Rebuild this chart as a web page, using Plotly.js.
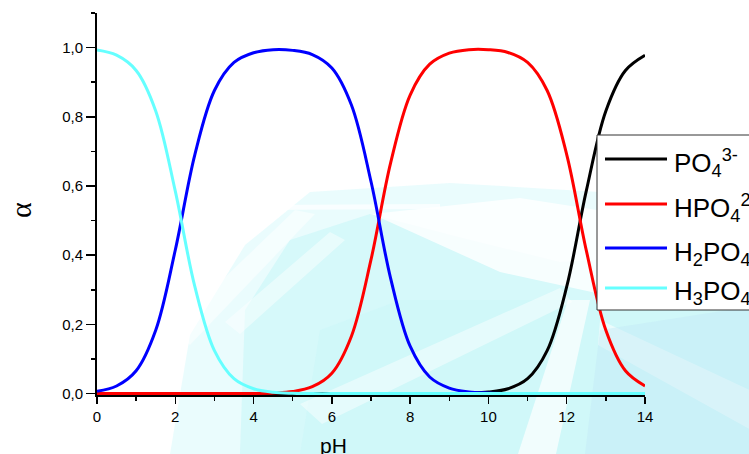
<!DOCTYPE html>
<html>
<head>
<meta charset="utf-8">
<script src="https://cdn.plot.ly/plotly-3.0.1.min.js"></script>
<style>html,body{margin:0;padding:0;background:#fff;}#chart{width:749px;height:454px;}</style>
</head>
<body>
<div id="chart"></div>
<script>
// ---- data ----
const pH = [0,0.5,1,1.5,2,2.5,3,3.5,4,4.5,5,5.5,6,6.5,7,7.5,8,8.5,9,9.5,10,10.5,11,11.5,12,12.5,13,13.5,14];
const H3PO4 = [0.993,0.978,0.934,0.817,0.585,0.309,0.124,0.043,0.014,0.004,0.001,0,0,0,0,0,0,0,0,0,0,0,0,0,0,0,0,0,0];
const H2PO4 = [0.007,0.022,0.066,0.183,0.415,0.691,0.876,0.957,0.985,0.994,0.992,0.980,0.941,0.834,0.613,0.334,0.137,0.048,0.016,0.005,0.002,0.0005,0,0,0,0,0,0,0];
const HPO4  = [0,0,0,0,0,0,0,0.0002,0.0006,0.002,0.006,0.020,0.059,0.166,0.387,0.666,0.863,0.952,0.984,0.994,0.994,0.986,0.957,0.876,0.691,0.414,0.183,0.066,0.022];
const PO4   = [0,0,0,0,0,0,0,0,0,0,0,0,0,0,0,0,0,0.0001,0.0004,0.0014,0.0045,0.014,0.043,0.124,0.309,0.586,0.817,0.934,0.978];
const seriesNames = ['PO<sub>4</sub><sup>3-</sup>','HPO<sub>4</sub><sup>2-</sup>','H<sub>2</sub>PO<sub>4</sub><sup>-</sup>','H<sub>3</sub>PO<sub>4</sub>'];
const seriesColors = ['#000000','#ff0000','#0000ff','#66ffff'];
const yTickVals = [0,0.2,0.4,0.6,0.8,1.0];
const xTickVals = [0,2,4,6,8,10,12,14];

// ---- geometry helpers (pixel -> paper) ----
const L = 97, R = 645, T = 13, B = 395;
const px = x => (x - L) / (R - L);
const py = y => (B - y) / (B - T);
function path(pts){ return 'M' + pts.map(p => px(p[0]).toFixed(4) + ',' + py(p[1]).toFixed(4)).join('L') + 'Z'; }
function bg(pts, color, op){ return {type:'path', xref:'paper', yref:'paper', layer:'below', path:path(pts), fillcolor:color, opacity:op, line:{width:0}}; }

const CY = 'rgb(196,246,248)';
const shapes = [
  // faint watermark background (soft cyan light-ray picture)
  bg([[170,454],[190,335],[245,245],[310,192],[450,183],[600,192],[760,190],[760,454]], CY, 0.35),
  bg([[240,454],[245,310],[290,240],[370,214],[470,240],[560,262],[760,250],[760,454]], CY, 0.55),
  bg([[300,454],[320,330],[400,300],[520,300],[760,300],[760,454]], CY, 0.3),
  bg([[372,214],[520,198],[610,212],[610,296],[500,272]], 'rgb(255,255,255)', 0.8),
  bg([[250,205],[440,204],[440,209],[250,210]], 'rgb(255,255,255)', 0.7),
  bg([[170,330],[295,210],[315,214],[190,345]], 'rgb(255,255,255)', 0.5),
  bg([[225,322],[330,232],[345,240],[240,334]], 'rgb(255,255,255)', 0.45),
  bg([[300,404],[560,288],[572,302],[322,424]], 'rgb(255,255,255)', 0.45),
  bg([[518,454],[556,454],[590,300],[568,300]], 'rgb(255,255,255)', 0.7),
  bg([[600,320],[760,395],[760,435],[598,345]], 'rgb(255,255,255)', 0.55),
  bg([[600,330],[760,305],[760,454],[585,454]], 'rgb(196,232,247)', 0.45),
  // legend box
  {type:'rect', xref:'paper', yref:'paper', layer:'above', x0:px(597), x1:px(775), y0:py(310), y1:py(135), fillcolor:'#ffffff', line:{color:'#333333', width:1}}
];
const legendY = [159, 204, 248, 288];
const annotations = [];
legendY.forEach((y, i) => {
  shapes.push({type:'line', xref:'paper', yref:'paper', layer:'above', x0:px(605), x1:px(667), y0:py(y), y1:py(y), line:{color:seriesColors[i], width:3}});
  annotations.push({xref:'paper', yref:'paper', x:px(672), y:py(y+4), xanchor:'left', yanchor:'middle', showarrow:false, text:seriesNames[i], font:{family:'Liberation Sans, Arial, sans-serif', size:26, color:'#000'}});
});
annotations.push({xref:'paper', yref:'paper', x:px(333), y:py(445), xanchor:'center', yanchor:'middle', showarrow:false, text:'pH', font:{family:'Liberation Sans, Arial, sans-serif', size:21, color:'#000'}});
annotations.push({xref:'paper', yref:'paper', x:px(20), y:py(210), xanchor:'center', yanchor:'middle', showarrow:false, textangle:-90, text:'α', font:{family:'Liberation Serif, serif', size:30, color:'#000'}});

const ys = [PO4, HPO4, H2PO4, H3PO4];
const traces = ys.map((y, i) => ({
  x: pH, y: y, type:'scatter', mode:'lines', name: seriesNames[i],
  line:{color: seriesColors[i], width:3, shape:'spline', smoothing:1}
}));

const axFont = {family:'Liberation Sans, Arial, sans-serif', size:15, color:'#000'};
const layout = {
  width:749, height:454,
  margin:{l:L, r:749-R, t:T, b:454-B, pad:0},
  paper_bgcolor:'#ffffff', plot_bgcolor:'rgba(0,0,0,0)',
  showlegend:false,
  separators:',.',
  xaxis:{range:[0,14], tickvals:xTickVals, ticks:'outside', ticklen:7, tickwidth:1.5, tickcolor:'#000',
         showline:true, linecolor:'#000', linewidth:2, showgrid:false, zeroline:false, tickfont:axFont,
         minor:{dtick:1, tick0:0, ticks:'outside', ticklen:4, tickwidth:1.5, tickcolor:'#000', showgrid:false}},
  yaxis:{range:[-0.004,1.1], tickvals:yTickVals, tickformat:'.1f', ticks:'outside', ticklen:9, tickwidth:1.5, tickcolor:'#000',
         showline:true, linecolor:'#000', linewidth:2, showgrid:false, zeroline:false, tickfont:axFont,
         minor:{dtick:0.1, tick0:0, ticks:'outside', ticklen:4, tickwidth:1.5, tickcolor:'#000', showgrid:false}},
  shapes: shapes,
  annotations: annotations
};
Plotly.newPlot('chart', traces, layout, {displayModeBar:false, staticPlot:true});
</script>
</body>
</html>
